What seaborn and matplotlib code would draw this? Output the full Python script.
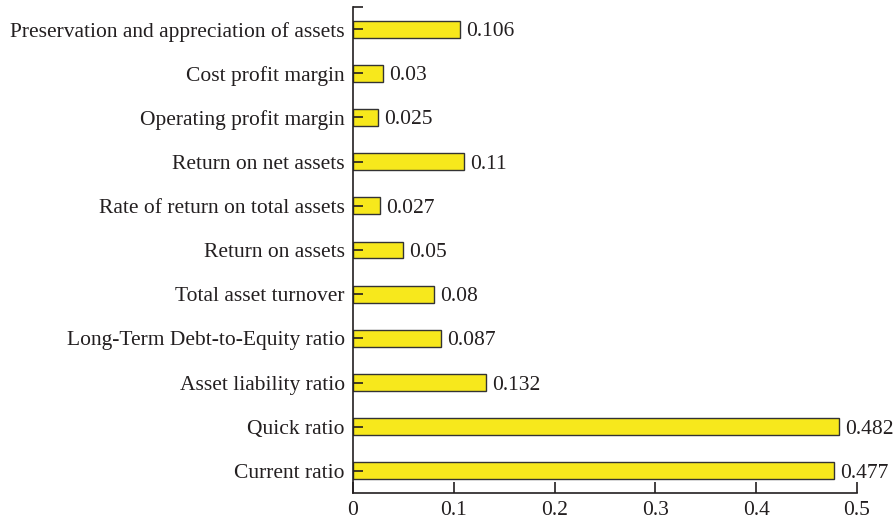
import matplotlib
matplotlib.use("Agg")
import matplotlib.pyplot as plt
import seaborn as sns
import pandas as pd

indicators = [
    "Preservation and appreciation of assets",
    "Cost profit margin",
    "Operating profit margin",
    "Return on net assets",
    "Rate of return on total assets",
    "Return on assets",
    "Total asset turnover",
    "Long-Term Debt-to-Equity ratio",
    "Asset liability ratio",
    "Quick ratio",
    "Current ratio",
]
weights = [0.106, 0.03, 0.025, 0.11, 0.027, 0.05, 0.08, 0.087, 0.132, 0.482, 0.477]
value_labels = ["0.106", "0.03", "0.025", "0.11", "0.027", "0.05", "0.08", "0.087", "0.132", "0.482", "0.477"]
x_ticks = [0, 0.1, 0.2, 0.3, 0.4, 0.5]

df = pd.DataFrame({"indicator": indicators, "weight": weights})

sns.set_style("white")
plt.rcParams["font.family"] = ["Liberation Serif", "DejaVu Serif"]
plt.rcParams["text.color"] = "#231f20"
plt.rcParams["xtick.color"] = "#231f20"
plt.rcParams["ytick.color"] = "#231f20"

fs = 15.5

fig = plt.figure(figsize=(8.96, 5.24), dpi=100)
ax = fig.add_axes([0.394, 0.0592, 0.5625, 0.9274])

sns.barplot(data=df, x="weight", y="indicator", orient="h", color="#F7E81C",
            saturation=1, edgecolor="#333333", linewidth=1.0, width=0.38, ax=ax)

for i, (v, lab) in enumerate(zip(weights, value_labels)):
    ax.text(v + 0.006, i, lab, va="center_baseline", ha="left", fontsize=fs)

ax.set_xlim(0, 0.5)
ax.set_ylim(10.5, -0.5)
ax.set_xticks(x_ticks)
ax.set_xticklabels(["0", "0.1", "0.2", "0.3", "0.4", "0.5"])
ax.set_yticks([-0.5], minor=True)
ax.set_xlabel("")
ax.set_ylabel("")
ax.set_axisbelow(False)

for s in ["top", "right"]:
    ax.spines[s].set_visible(False)
for s in ["left", "bottom"]:
    ax.spines[s].set_color("#231f20")
    ax.spines[s].set_linewidth(1.2)

ax.tick_params(axis="x", bottom=True, direction="in", length=8, width=1.2, labelsize=fs, pad=6)
ax.tick_params(axis="y", which="both", left=True, direction="in", length=7, width=1.2, labelsize=fs, pad=6)

fig.savefig("out.png", dpi=100)
plt.close(fig)
